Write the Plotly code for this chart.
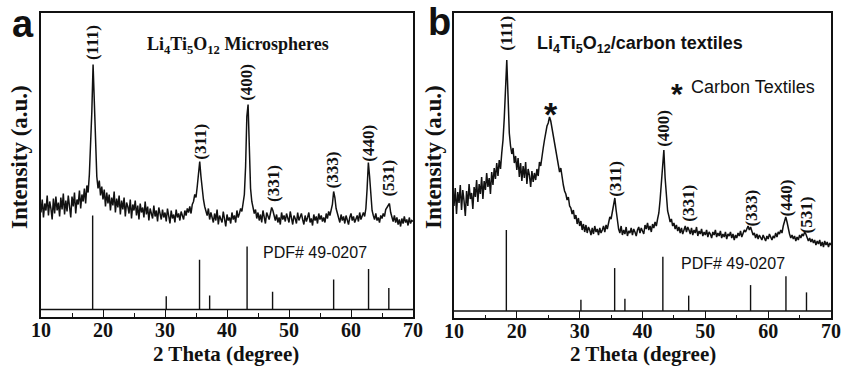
import plotly.graph_objects as go

# ---------------- data ----------------
# 2-theta grid: 10.0 .. 70.0 step 0.2 (heights in a.u.)
two_theta = [round(10 + 0.2 * i, 1) for i in range(301)]

intensity_a = [
    104, 117, 99, 113, 106,   121, 101, 115, 108, 97,   118, 103, 120, 106, 114,
    100, 119, 107, 123, 102,  116, 105, 121, 108, 99,   120, 110, 124, 103, 117,
    112, 126, 108, 122, 115,  128, 113, 131, 124, 142,  168, 205, 252, 210, 160,
    140, 128, 136, 121, 130,  117, 127, 110, 124, 113,  122, 106, 119, 111, 125,
    104, 118, 109, 121, 102,  116, 107, 119, 100, 114,  110, 103, 117, 98, 112,
    106, 116, 101, 111, 97,   113, 104, 109, 99, 115,   102, 110, 96, 108, 104,
    98, 111, 100, 106, 95,    109, 101, 97, 107, 99,    104, 95, 108, 100, 93,
    106, 98, 102, 94, 107,    99, 103, 96, 105, 100,    97, 106, 101, 108, 104,
    110, 103, 112, 115, 122,  119, 130, 142, 155, 140,  126, 117, 110, 106, 101,
    108, 97, 104, 99, 94,     103, 96, 107, 92, 101,    98, 94, 105, 97, 90,
    102, 96, 99, 93, 104,     97, 101, 94, 106, 99,     103, 108, 105, 114, 122,
    150, 200, 212, 160, 128,  115, 109, 103, 107, 98,   104, 96, 102, 94, 106,
    99, 93, 104, 100, 97,     103, 109, 106, 101, 96,   102, 94, 99, 92, 104,
    97, 101, 95, 103, 98,     94, 105, 99, 92, 101,     98, 93, 104, 96, 100,
    103, 97, 92, 101, 95,     99, 104, 94, 98, 91,      102, 96, 100, 93, 103,
    97, 101, 95, 99, 94,      103, 98, 105, 101, 108,   112, 125, 119, 108, 103,
    99, 94, 102, 96, 100,     93, 101, 97, 92, 99,      103, 96, 100, 94, 98,
    101, 95, 104, 97, 102,    104, 100, 108, 128, 154,  140, 118, 106, 101, 97,
    103, 96, 99, 94, 101,     98, 103, 100, 107, 109,   111, 113, 104, 99, 95,
    101, 94, 99, 92, 97,      90, 98, 93, 100, 94,      97, 91, 99, 93, 96,
    95,
]

intensity_b = [
    112, 130, 104, 126, 115,  133, 108, 128, 117, 102,  127, 112, 134, 119, 125,
    109, 131, 121, 138, 116,  134, 124, 141, 119, 137,  128, 145, 131, 140, 124,
    146, 133, 150, 139, 155,  142, 158, 149, 165, 178,  200, 235, 258, 222, 185,
    172, 164, 170, 155, 162,  148, 160, 141, 155, 137,  152, 140, 156, 134, 149,
    143, 131, 147, 136, 145,  138, 149, 142, 156, 152,  163, 170, 178, 186, 192,
    195, 201, 197, 190, 183,  178, 170, 161, 155, 146,  150, 139, 133, 127, 124,
    118, 121, 112, 110, 104,  108, 99, 103, 94, 100,    92, 97, 88, 94, 86,
    93, 85, 91, 88, 83,       90, 84, 92, 86, 89,       83, 90, 85, 88, 92,
    86, 93, 89, 95, 101,      99, 106, 112, 120, 108,   96, 89, 85, 92, 83,
    88, 84, 91, 82, 87,       85, 90, 83, 89, 86,       82, 88, 91, 85, 90,
    87, 84, 93, 89, 95,       88, 92, 86, 94, 90,       96, 92, 99, 105, 118,
    135, 160, 168, 140, 118,  107, 102, 96, 99, 92,     95, 89, 93, 87, 91,
    85, 90, 84, 88, 92,       86, 91, 88, 84, 90,       83, 88, 85, 91, 82,
    87, 84, 89, 82, 86,       83, 88, 81, 86, 84,       80, 86, 83, 88, 81,
    85, 82, 87, 80, 84,       81, 86, 79, 84, 82,       86, 80, 84, 78, 83,
    80, 85, 82, 87, 81,       84, 88, 86, 90, 92,       88, 91, 87, 83, 85,
    80, 84, 79, 83, 81,       78, 83, 80, 77, 82,       79, 84, 80, 78, 82,
    80, 85, 81, 86, 84,       88, 85, 92, 97, 101,      96, 88, 84, 80, 83,
    79, 82, 77, 81, 78,       83, 80, 84, 82, 86,       84, 81, 77, 80, 76,
    79, 75, 78, 73, 77,       74, 78, 72, 76, 71,       77, 73, 76, 71, 75,
    73,
]

# reference pattern PDF# 49-0207
pdf_pos = [18.33, 30.2, 35.57, 37.2, 43.24, 47.35, 57.2, 62.83, 66.1]
pdf_rel = [100, 14, 53, 15, 67, 19, 32, 43, 23]
pdf_scale_a = 0.94
pdf_scale_b = 0.81
pdf_base = 7

hkl_labels = ["(111)", "(311)", "(400)", "(331)", "(333)", "(440)", "(531)"]
hkl_pos_a = [18.4, 35.6, 43.2, 47.4, 57.0, 62.7, 65.9]
hkl_y_a = [273.5, 174.5, 234.5, 133.5, 146.5, 173.5, 138.5]
hkl_pos_b = [18.4, 35.6, 43.4, 47.2, 57.2, 62.9, 66.1]
hkl_y_b = [285, 139, 190, 115, 110, 120, 103]

x_ticks = [10, 20, 30, 40, 50, 60, 70]

# ---------------- figure ----------------
SERIF = "Liberation Serif"
SANS = "Liberation Sans"
W, H = 841, 367
INK = "#111111"

fig = go.Figure()


def sticks(pos, rel, scale):
    xs, ys = [], []
    for p, r in zip(pos, rel):
        xs += [p, p, None]
        ys += [pdf_base, pdf_base + r * scale, None]
    return xs, ys


for k, (inten, scale) in enumerate([(intensity_a, pdf_scale_a), (intensity_b, pdf_scale_b)]):
    xa = "x" if k == 0 else "x2"
    ya = "y" if k == 0 else "y2"
    fig.add_trace(go.Scatter(x=two_theta, y=inten, mode="lines",
                             line=dict(color=INK, width=1.5),
                             xaxis=xa, yaxis=ya, showlegend=False, hoverinfo="skip"))
    sx, sy = sticks(pdf_pos, pdf_rel, scale)
    fig.add_trace(go.Scatter(x=sx, y=sy, mode="lines",
                             line=dict(color=INK, width=1.4),
                             xaxis=xa, yaxis=ya, showlegend=False, hoverinfo="skip"))
    fig.add_trace(go.Scatter(x=[x_ticks[0], x_ticks[-1]], y=[pdf_base, pdf_base], mode="lines",
                             line=dict(color=INK, width=1.4),
                             xaxis=xa, yaxis=ya, showlegend=False, hoverinfo="skip"))

xaxis_common = dict(
    range=[10, 70], tickvals=x_ticks, ticks="inside", ticklen=7, tickwidth=1.4,
    tickcolor=INK, showline=True, linecolor=INK, linewidth=2, mirror=True,
    showgrid=False, zeroline=False, automargin=False, ticklabelstandoff=-6,
    ticklabeloverflow="allow",
    tickfont=dict(family=SERIF, size=20, color=INK, weight="bold"),
    minor=dict(tickvals=[15, 25, 35, 45, 55, 65], ticks="inside", ticklen=3.5,
               tickwidth=1.2, tickcolor=INK, showgrid=False),
)
yaxis_common = dict(
    showticklabels=False, ticks="", showline=True, linecolor=INK, linewidth=2,
    mirror=True, showgrid=False, zeroline=False, automargin=False,
)

fig.update_layout(
    width=W, height=H, margin=dict(l=0, r=0, t=0, b=0, pad=0, autoexpand=False),
    paper_bgcolor="white", plot_bgcolor="white",
    xaxis=dict(domain=[41 / W, 413 / W], anchor="y", **xaxis_common),
    yaxis=dict(domain=[1 - 316.5 / H, 1 - 13 / H], range=[0, 303.5], anchor="x", **yaxis_common),
    xaxis2=dict(domain=[454 / W, 831 / W], anchor="y2", **xaxis_common),
    yaxis2=dict(domain=[1 - 318 / H, 1 - 13 / H], range=[0, 305], anchor="x2", **yaxis_common),
)

ann = []


def add(**kw):
    kw.setdefault("showarrow", False)
    kw.setdefault("xanchor", "center")
    kw.setdefault("yanchor", "middle")
    ann.append(kw)


# hkl labels
for lab, xp, yp in zip(hkl_labels, hkl_pos_a, hkl_y_a):
    add(x=xp, y=yp, xref="x", yref="y", text=lab, textangle=-90,
        font=dict(family=SERIF, size=17, color=INK, weight="bold"))
for lab, xp, yp in zip(hkl_labels, hkl_pos_b, hkl_y_b):
    add(x=xp, y=yp, xref="x2", yref="y2", text=lab, textangle=-90,
        font=dict(family=SERIF, size=17, color=INK, weight="bold"))

# panel titles
add(x=41.8, y=271, xref="x", yref="y",
    text="Li<sub>4</sub>Ti<sub>5</sub>O<sub>12</sub> Microspheres",
    font=dict(family=SERIF, size=18, color=INK, weight="bold"))
add(x=39.6, y=273, xref="x2", yref="y2",
    text="Li<sub>4</sub>Ti<sub>5</sub>O<sub>12</sub>/carbon textiles",
    font=dict(family=SANS, size=18, color=INK, weight="bold"))
# PDF labels
add(x=54.2, y=64.5, xref="x", yref="y", text="PDF# 49-0207",
    font=dict(family=SANS, size=16, color=INK))
add(x=54.4, y=55, xref="x2", yref="y2", text="PDF# 49-0207",
    font=dict(family=SANS, size=16, color=INK))
# carbon textiles marker + legend
add(x=25.4, y=204, xref="x2", yref="y2", text="*",
    font=dict(family=SANS, size=34, color=INK, weight="bold"))
add(x=45.5, y=224, xref="x2", yref="y2", text="*",
    font=dict(family=SANS, size=30, color=INK, weight="bold"))
add(x=57.6, y=231, xref="x2", yref="y2", text="Carbon Textiles",
    font=dict(family=SANS, size=18, color=INK))

# axis titles
for cx in [19, 433]:
    add(x=cx / W, y=1 - 157 / H, xref="paper", yref="paper",
        text="Intensity (a.u.)", textangle=-90,
        font=dict(family=SERIF, size=23, color=INK, weight="bold"))
for cx in [226, 643]:
    add(x=cx / W, y=1 - 354 / H, xref="paper", yref="paper",
        text="2 Theta (degree)",
        font=dict(family=SERIF, size=21, color=INK, weight="bold"))
# panel letters
add(x=23 / W, y=1 - 24 / H, xref="paper", yref="paper", text="a",
    font=dict(family=SANS, size=38, color=INK, weight="bold"))
add(x=439 / W, y=1 - 22 / H, xref="paper", yref="paper", text="b",
    font=dict(family=SANS, size=38, color=INK, weight="bold"))

fig.update_layout(annotations=ann)
fig.write_html(
    "out.html",
    config={"displayModeBar": False},
    post_script="document.body.style.margin='0';document.body.style.padding='0';"
                "document.body.style.overflow='hidden';",
)
